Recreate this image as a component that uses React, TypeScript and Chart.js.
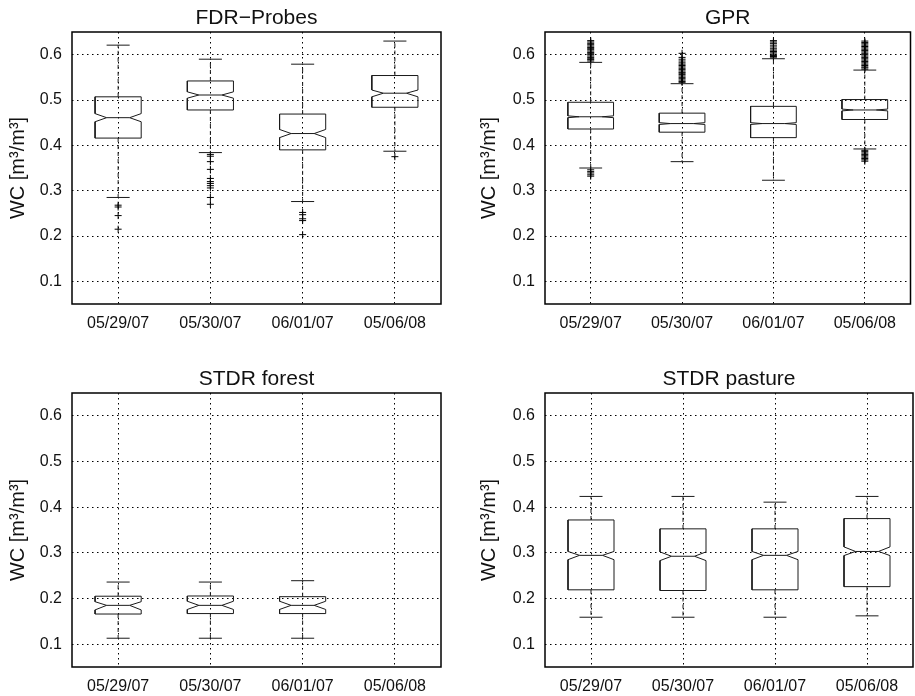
import React, { useEffect, useRef } from "react";
import { Chart, registerables } from "chart.js";

Chart.register(...registerables);

// ---------- data ----------
const categories = ["05/29/07", "05/30/07", "06/01/07", "05/06/08"];
const yTickValues = [0.1, 0.2, 0.3, 0.4, 0.5, 0.6];
const yTickLabels = ["0.1", "0.2", "0.3", "0.4", "0.5", "0.6"];
const yAxisLabel = "WC [m³/m³]";

// FDR−Probes
const fdrLowerWhisker = [0.285, 0.384, 0.276, 0.387];
const fdrQ1 = [0.416, 0.478, 0.39, 0.484];
const fdrNotchLow = [0.452, 0.504, 0.417, 0.507];
const fdrMedian = [0.461, 0.511, 0.426, 0.515];
const fdrNotchHigh = [0.47, 0.518, 0.435, 0.522];
const fdrQ3 = [0.507, 0.542, 0.469, 0.554];
const fdrUpperWhisker = [0.621, 0.59, 0.579, 0.63];
const fdrOutliers = [
  [0.268, 0.264, 0.245, 0.215],
  [0.38, 0.376, 0.364, 0.347, 0.327, 0.32, 0.316, 0.311, 0.306, 0.285, 0.27],
  [0.252, 0.247, 0.238, 0.234, 0.203],
  [0.375],
];

// GPR
const gprLowerWhisker = [0.35, 0.364, 0.323, 0.392];
const gprQ1 = [0.436, 0.429, 0.417, 0.457];
const gprNotchLow = [0.461, 0.446, 0.446, 0.476];
const gprMedian = [0.463, 0.448, 0.448, 0.478];
const gprNotchHigh = [0.465, 0.45, 0.45, 0.48];
const gprQ3 = [0.495, 0.471, 0.486, 0.501];
const gprUpperWhisker = [0.583, 0.536, 0.591, 0.566];
const gprOutliers = [
  [0.586, 0.589, 0.591, 0.594, 0.597, 0.6, 0.603, 0.605, 0.608, 0.611, 0.614, 0.616, 0.619, 0.622, 0.625, 0.628, 0.631,
   0.346, 0.342, 0.339, 0.335, 0.332],
  [0.539, 0.541, 0.544, 0.547, 0.55, 0.553, 0.556, 0.559, 0.561, 0.564, 0.567, 0.57, 0.573, 0.576, 0.579, 0.582, 0.586, 0.59, 0.594, 0.603],
  [0.593, 0.596, 0.598, 0.601, 0.604, 0.607, 0.61, 0.613, 0.617, 0.621, 0.625, 0.628, 0.631],
  [0.568, 0.571, 0.573, 0.576, 0.579, 0.582, 0.585, 0.588, 0.591, 0.594, 0.597, 0.6, 0.603, 0.606, 0.609, 0.612, 0.615, 0.618, 0.621, 0.624, 0.627, 0.63,
   0.389, 0.386, 0.383, 0.38, 0.377, 0.374, 0.371, 0.368, 0.365],
];

// STDR forest (no data for 05/06/08)
const forestLowerWhisker = [0.113, 0.113, 0.113, null];
const forestQ1 = [0.166, 0.167, 0.167, null];
const forestNotchLow = [0.175, 0.176, 0.176, null];
const forestMedian = [0.185, 0.185, 0.185, null];
const forestNotchHigh = [0.193, 0.194, 0.194, null];
const forestQ3 = [0.205, 0.2055, 0.204, null];
const forestUpperWhisker = [0.236, 0.236, 0.239, null];
const forestOutliers = [[], [], [], []];

// STDR pasture
const pastureLowerWhisker = [0.159, 0.159, 0.159, 0.162];
const pastureQ1 = [0.219, 0.2175, 0.219, 0.226];
const pastureNotchLow = [0.285, 0.283, 0.285, 0.294];
const pastureMedian = [0.2945, 0.2925, 0.2945, 0.303];
const pastureNotchHigh = [0.303, 0.302, 0.303, 0.313];
const pastureQ3 = [0.372, 0.3525, 0.3525, 0.375];
const pastureUpperWhisker = [0.4235, 0.4235, 0.411, 0.4235];
const pastureOutliers = [[], [], [], []];

// ---------- styling / layout ----------
const FONT = "'Liberation Sans', Arial, Helvetica, sans-serif";
const BOX_HALF = 0.25;
const LINE_COLOR = "#1a1a1a";

type Stats = {
  lower: (number | null)[];
  q1: (number | null)[];
  nLo: (number | null)[];
  med: (number | null)[];
  nHi: (number | null)[];
  q3: (number | null)[];
  upper: (number | null)[];
  out: number[][];
};

const PANELS = [
  {
    title: "FDR−Probes",
    left: 0, top: 0, w: 457, h: 340, padRight: 16, yTitlePad: 6,
    stats: { lower: fdrLowerWhisker, q1: fdrQ1, nLo: fdrNotchLow, med: fdrMedian, nHi: fdrNotchHigh, q3: fdrQ3, upper: fdrUpperWhisker, out: fdrOutliers },
  },
  {
    title: "GPR",
    left: 473, top: 0, w: 442, h: 340, padRight: 2, yTitlePad: 4,
    stats: { lower: gprLowerWhisker, q1: gprQ1, nLo: gprNotchLow, med: gprMedian, nHi: gprNotchHigh, q3: gprQ3, upper: gprUpperWhisker, out: gprOutliers },
  },
  {
    title: "STDR forest",
    left: 0, top: 361, w: 457, h: 342, padRight: 16, yTitlePad: 6,
    stats: { lower: forestLowerWhisker, q1: forestQ1, nLo: forestNotchLow, med: forestMedian, nHi: forestNotchHigh, q3: forestQ3, upper: forestUpperWhisker, out: forestOutliers },
  },
  {
    title: "STDR pasture",
    left: 473, top: 361, w: 442, h: 342, padRight: 2, yTitlePad: 4,
    stats: { lower: pastureLowerWhisker, q1: pastureQ1, nLo: pastureNotchLow, med: pastureMedian, nHi: pastureNotchHigh, q3: pastureQ3, upper: pastureUpperWhisker, out: pastureOutliers },
  },
];

function lineDs(data: { x: number; y: number }[], dash: number[] = [], width = 1, color = LINE_COLOR) {
  return {
    data,
    showLine: true,
    borderColor: color,
    borderWidth: width,
    borderDash: dash,
    pointRadius: 0,
    pointHoverRadius: 0,
    fill: false,
    tension: 0,
  };
}

function buildDatasets(s: Stats) {
  const ds: any[] = [];
  categories.forEach((_, i) => {
    const med = s.med[i];
    if (med == null) return;
    const x = i + 1;
    const w = BOX_HALF;
    const q1 = s.q1[i] as number;
    const q3 = s.q3[i] as number;
    const nLo = s.nLo[i] as number;
    const nHi = s.nHi[i] as number;
    const lo = s.lower[i] as number;
    const up = s.upper[i] as number;
    // whiskers (dashed)
    ds.push(lineDs([{ x, y: q3 }, { x, y: up }], [4, 3]));
    ds.push(lineDs([{ x, y: q1 }, { x, y: lo }], [4, 3]));
    // caps
    ds.push(lineDs([{ x: x - w / 2, y: up }, { x: x + w / 2, y: up }]));
    ds.push(lineDs([{ x: x - w / 2, y: lo }, { x: x + w / 2, y: lo }]));
    // notched box outline
    ds.push(
      lineDs([
        { x: x - w, y: q1 },
        { x: x + w, y: q1 },
        { x: x + w, y: nLo },
        { x: x + w / 2, y: med },
        { x: x + w, y: nHi },
        { x: x + w, y: q3 },
        { x: x - w, y: q3 },
        { x: x - w, y: nHi },
        { x: x - w / 2, y: med },
        { x: x - w, y: nLo },
        { x: x - w, y: q1 },
      ])
    );
    // median
    ds.push(lineDs([{ x: x - w / 2, y: med }, { x: x + w / 2, y: med }]));
    // outliers
    const outs = s.out[i] || [];
    if (outs.length) {
      ds.push({
        data: outs.map((v) => ({ x, y: v })),
        showLine: false,
        pointStyle: "cross",
        pointRadius: 3.5,
        pointHoverRadius: 3.5,
        pointBorderWidth: 1,
        borderColor: "#000",
        backgroundColor: "#000",
        borderWidth: 1,
      });
    }
  });
  return ds;
}

const framePlugin = {
  id: "frameBox",
  afterDraw(chart: any) {
    const { ctx, chartArea } = chart;
    const { left, top, right, bottom } = chartArea;
    ctx.save();
    ctx.strokeStyle = "#000";
    ctx.lineWidth = 1.5;
    ctx.strokeRect(left, top, right - left, bottom - top);
    ctx.restore();
  },
};

function buildConfig(p: (typeof PANELS)[number]): any {
  return {
    type: "scatter",
    data: { datasets: buildDatasets(p.stats as Stats) },
    options: {
      animation: false,
      responsive: false,
      maintainAspectRatio: false,
      events: [],
      layout: { padding: { left: 0, right: p.padRight, top: 0, bottom: 0 } },
      plugins: {
        legend: { display: false },
        tooltip: { enabled: false },
        title: {
          display: true,
          text: p.title,
          color: "#111",
          font: { family: FONT, size: 21, weight: "normal", lineHeight: 1.2 },
          padding: { top: 6, bottom: 0.8 },
          fullSize: false,
        },
      },
      scales: {
        x: {
          type: "linear",
          min: 0.5,
          max: 4.5,
          afterBuildTicks: (scale: any) => {
            scale.ticks = categories.map((_, i) => ({ value: i + 1 }));
          },
          afterFit: (scale: any) => {
            scale.height = 36;
          },
          ticks: {
            autoSkip: false,
            maxRotation: 0,
            padding: 10,
            color: "#111",
            font: { family: FONT, size: 16 },
            callback: (v: number) => categories[Math.round(v) - 1],
          },
          grid: { color: "#000", lineWidth: 1, drawTicks: false },
          border: { display: false, dash: [1.5, 3.5] },
        },
        y: {
          type: "linear",
          min: 0.05,
          max: 0.65,
          afterBuildTicks: (scale: any) => {
            scale.ticks = yTickValues.map((v) => ({ value: v }));
          },
          afterFit: (scale: any) => {
            scale.width = 72;
          },
          ticks: {
            padding: 10,
            color: "#111",
            font: { family: FONT, size: 16 },
            callback: (_v: number, idx: number) => yTickLabels[idx],
          },
          grid: { color: "#000", lineWidth: 1, drawTicks: false },
          border: { display: false, dash: [1.5, 3.5] },
          title: {
            display: true,
            text: yAxisLabel,
            color: "#111",
            font: { family: FONT, size: 20, weight: "normal", lineHeight: 1.2 },
            padding: { top: p.yTitlePad, bottom: 0 },
          },
        },
      },
    },
    plugins: [framePlugin],
  };
}

function BoxPanel({ panel }: { panel: (typeof PANELS)[number] }) {
  const ref = useRef<HTMLCanvasElement>(null);
  useEffect(() => {
    if (!ref.current) return;
    const chart = new Chart(ref.current, buildConfig(panel));
    return () => chart.destroy();
  }, [panel]);
  return (
    <canvas
      ref={ref}
      width={panel.w}
      height={panel.h}
      style={{ position: "absolute", left: panel.left, top: panel.top, width: panel.w, height: panel.h }}
    />
  );
}

export default function App() {
  return (
    <div style={{ position: "absolute", left: 0, top: 0, width: 915, height: 696, background: "#fff", overflow: "hidden" }}>
      {PANELS.map((p) => (
        <BoxPanel key={p.title} panel={p} />
      ))}
    </div>
  );
}
